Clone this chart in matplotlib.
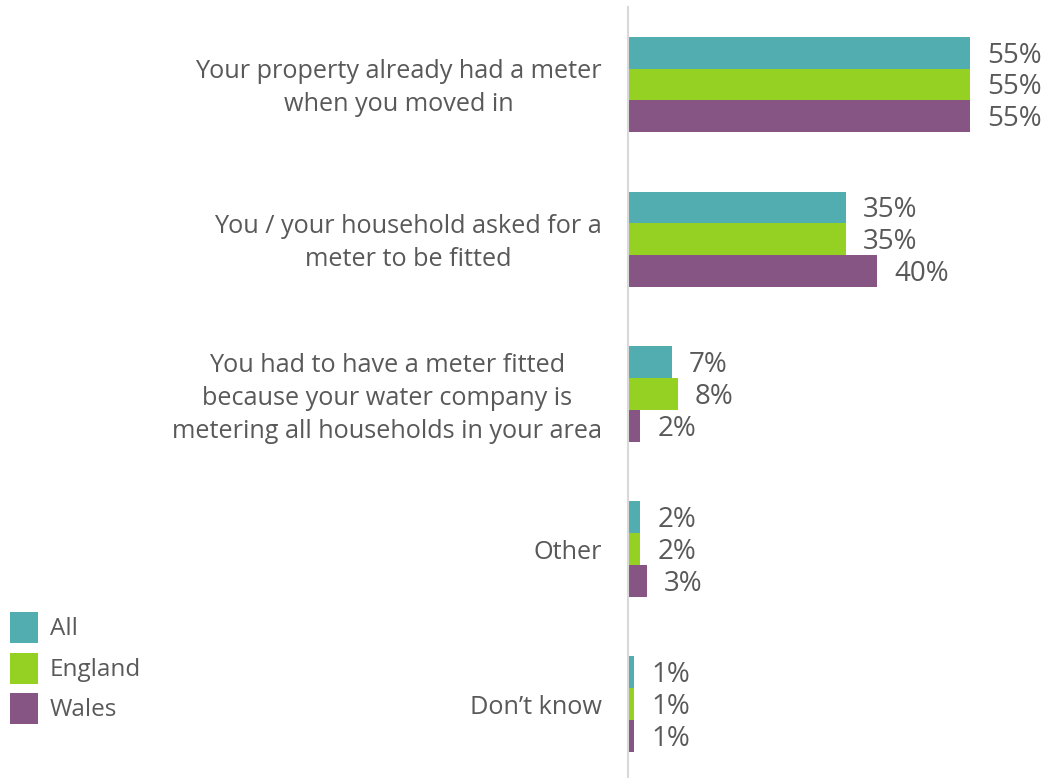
import matplotlib
matplotlib.use("Agg")
import matplotlib.pyplot as plt
from matplotlib.patches import Rectangle
from matplotlib.transforms import Affine2D
import numpy as np

plt.rcParams['font.family'] = ['Open Sans', 'DejaVu Sans']

categories = [
    "Your property already had a meter\nwhen you moved in",
    "You / your household asked for a\nmeter to be fitted",
    "You had to have a meter fitted\nbecause your water company is\nmetering all households in your area",
    "Other",
    "Don\u2019t know",
]
series_names = ["All", "England", "Wales"]
all_values = [55, 35, 7, 2, 1]
england_values = [55, 35, 8, 2, 1]
wales_values = [55, 40, 2, 3, 1]

colors = ["#52ADB0", "#94D122", "#865584"]
text_color = "#595959"

W, H = 1043, 778
fig = plt.figure(figsize=(W / 100, H / 100), dpi=100)

ax_left = 628 / W
ax = fig.add_axes([ax_left, 0, 1 - ax_left, 1 - 7 / H])

y = np.arange(len(categories))
bar_h = 0.206
offsets = [-bar_h, 0, bar_h]
series = [all_values, england_values, wales_values]

for vals, off, col in zip(series, offsets, colors):
    bars = ax.barh(y + off, vals, height=bar_h, color=col, linewidth=0)
    for b, v in zip(bars, vals):
        ax.annotate(f"{v}%", xy=(b.get_width(), b.get_y() + b.get_height() / 2),
                    xytext=(17, -3), textcoords="offset pixels",
                    ha="left", va="center", fontsize=20, color=text_color)

ax.set_xlim(0, 66.7)
ax.set_ylim(4.477, -0.5)

for s in ["top", "right", "bottom"]:
    ax.spines[s].set_visible(False)
ax.spines["left"].set_color("#D9D9D9")
ax.spines["left"].set_linewidth(1.5)
ax.set_xticks([])
ax.set_yticks(y)
ax.set_yticklabels(categories, fontsize=18.2, color=text_color, linespacing=1.42)
ax.tick_params(axis="y", length=0, pad=22)
for t in ax.get_yticklabels():
    t.set_horizontalalignment("center")
    t.set_multialignment("center")

# move the centred category labels so their right edge sits just left of the axis
fig.canvas.draw()
renderer = fig.canvas.get_renderer()
for t in ax.get_yticklabels():
    bb = t.get_window_extent(renderer)
    dy = 3 if "\n" in t.get_text() else 0
    t.set_transform(t.get_transform() + Affine2D().translate(602 - bb.x1, dy))

# legend: coloured squares with labels in the lower-left corner
for i, (name, col) in enumerate(zip(series_names, colors)):
    top = 612 + i * 40.5
    fig.patches.append(Rectangle((10 / W, 1 - (top + 31) / H), 28 / W, 31 / H,
                                 transform=fig.transFigure, facecolor=col,
                                 edgecolor="none"))
    fig.text(50 / W, 1 - (top + 17) / H, name, fontsize=17.5, color=text_color,
             ha="left", va="center")

fig.savefig("out.png", dpi=100, facecolor="white")
